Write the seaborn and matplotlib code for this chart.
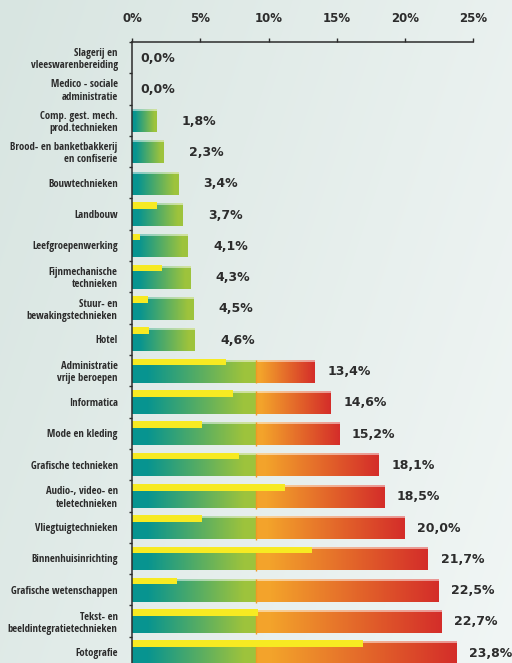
import numpy as np
import pandas as pd
import matplotlib
matplotlib.use("Agg")
import matplotlib.pyplot as plt
from matplotlib import font_manager
from matplotlib.colors import to_rgb
import seaborn as sns

# ---- data -------------------------------------------------------------
categories = [
    "Slagerij en\nvleeswarenbereiding",
    "Medico - sociale\nadministratie",
    "Comp. gest. mech.\nprod.technieken",
    "Brood- en banketbakkerij\nen confiserie",
    "Bouwtechnieken",
    "Landbouw",
    "Leefgroepenwerking",
    "Fijnmechanische\ntechnieken",
    "Stuur- en\nbewakingstechnieken",
    "Hotel",
    "Administratie\nvrije beroepen",
    "Informatica",
    "Mode en kleding",
    "Grafische technieken",
    "Audio-, video- en\nteletechnieken",
    "Vliegtuigtechnieken",
    "Binnenhuisinrichting",
    "Grafische wetenschappen",
    "Tekst- en\nbeeldintegratietechnieken",
    "Fotografie",
]
rates = [0.0, 0.0, 1.8, 2.3, 3.4, 3.7, 4.1, 4.3, 4.5, 4.6,
         13.4, 14.6, 15.2, 18.1, 18.5, 20.0, 21.7, 22.5, 22.7, 23.8]
reference_rates = [0.0, 0.0, 0.0, 0.0, 0.0, 1.8, 0.55, 2.2, 1.15, 1.25,
                   6.9, 7.4, 5.1, 7.85, 11.2, 5.1, 13.2, 3.3, 9.25, 16.9]
benchmark = 9.1
x_ticks = [0, 5, 10, 15, 20, 25]

# ---- style ------------------------------------------------------------
TEAL = np.array(to_rgb("#079490"))
GREEN = np.array(to_rgb("#9dc33c"))
ORANGE = np.array(to_rgb("#f3a32b"))
RED = np.array(to_rgb("#d42d29"))
YELLOW = "#f7ea22"
INK = "#2c2c2c"

sns.set_theme(style="white")
plt.rcParams["font.family"] = ["DejaVu Sans"]

W, H = 512, 663
fig = plt.figure(figsize=(W / 100, H / 100), dpi=100)
renderer = fig.canvas.get_renderer()

# pick the narrowest bold face on hand for the category labels
fonts = font_manager.fontManager.ttflist
names = {f.name for f in fonts}
candidates = []
for fam in ["Liberation Sans Narrow", "Roboto Condensed", "Open Sans Condensed",
            "Roboto", "Lato", "Liberation Sans", "Inter", "Noto Sans", "DejaVu Sans"]:
    if fam in names:
        candidates.append(dict(family=[fam, "DejaVu Sans"], fontweight="bold"))
if any(f.name == "DejaVu Sans" and f.stretch == "condensed" for f in fonts):
    candidates.append(dict(family=["DejaVu Sans"], fontweight="bold", fontstretch="condensed"))

longest = "beeldintegratietechnieken"
best, best_w = None, None
for props in candidates:
    probe = fig.text(0, 0, longest, fontsize=10, **props)
    w = probe.get_window_extent(renderer).width
    probe.remove()
    if best_w is None or w < best_w:
        best, best_w = props, w
label_props = best

# soft diagonal backdrop
bg = fig.add_axes([0, 0, 1, 1], zorder=-10)
bg.axis("off")
yy, xx = np.mgrid[0:H, 0:W]
t = (xx + 0.33 * yy) / (W + 0.33 * H)
c0 = np.array(to_rgb("#d8e5e1"))
c1 = np.array(to_rgb("#f1f6f5"))
bg.imshow(c0 + (c1 - c0) * t[..., None], aspect="auto", extent=[0, W, H, 0])
bg.set_xlim(0, W)
bg.set_ylim(H, 0)

ax = fig.add_axes([132.3 / W, (H - 668) / H, 340.7 / W, 626 / H])
ax.set_facecolor("none")

df = pd.DataFrame({"category": categories, "rate": rates, "reference": reference_rates})

sns.barplot(data=df, x="rate", y="category", orient="y", width=0.71,
            color=TEAL, saturation=1, ax=ax)
n_main = len(ax.patches)
sns.barplot(data=df, x="reference", y="category", orient="y", width=0.21,
            color=YELLOW, saturation=1, ax=ax)
main_bars = ax.patches[:n_main]
ref_bars = ax.patches[n_main:]


def ramp(ca, cb, s, lo, hi):
    u = np.clip((s - lo) / (hi - lo), 0, 1)
    return ca + (cb - ca) * u[:, None]


# gradient fills for the main bars
for bar in main_bars:
    v = bar.get_width()
    h = bar.get_height()
    y0 = bar.get_y() + 0.025
    bar.set_y(y0)
    bar.set_facecolor("none")
    bar.set_linewidth(0)
    if v <= 0:
        continue
    xs = np.linspace(0, v, 500)
    split = min(v, benchmark)
    cols = np.empty((xs.size, 3))
    low = xs <= split
    cols[low] = ramp(TEAL, GREEN, xs[low] / split, 0.12, 0.9)
    if v > benchmark:
        hi_part = ~low
        cols[hi_part] = ramp(ORANGE, RED, (xs[hi_part] - benchmark) / (v - benchmark), 0.08, 1.0)
    rows = 100
    img = np.repeat(cols[None, :, :], rows, axis=0)
    strip = int(rows * 0.1)
    img[:strip] = img[:strip] * 0.5 + 0.5
    ax.imshow(img, extent=(0, v, y0 + h, y0), aspect="auto",
              interpolation="nearest", zorder=2)
    if v > benchmark:
        ax.plot([benchmark, benchmark], [y0 - 0.02, y0 + h + 0.03],
                color="#ef9a24", lw=1.0, zorder=3, solid_capstyle="butt")

# thin reference bars along the top edge of each row
for bar in ref_bars:
    h = bar.get_height()
    c = bar.get_y() + h / 2
    bar.set_y(c - 0.275 - h / 2)
    bar.set_zorder(4)
    bar.set_linewidth(0)

# value labels
for i, v in enumerate(rates):
    off = 6 if v == 0 else (18 if v < benchmark else 9)
    ax.annotate(f"{v:.1f}".replace(".", ",") + "%", xy=(v, i + 0.03),
                xytext=(off, 0), textcoords="offset points",
                ha="left", va="center", fontsize=9, fontweight="bold",
                color=INK, zorder=5)

# axes
ax.set_xlim(0, 25)
ax.set_ylim(19.5, -0.5)
ax.set_xlabel("")
ax.set_ylabel("")
ax.xaxis.tick_top()
ax.set_xticks(x_ticks)
ax.set_xticklabels([f"{t}%" for t in x_ticks], fontweight="bold", fontsize=8.5, color=INK)
ax.tick_params(axis="x", which="major", top=True, bottom=False, labeltop=True,
               labelbottom=False, direction="out", length=3, width=1.0,
               color=INK, pad=9.5)
ax.set_yticks(range(len(categories)))
label_size = min(8.0, 10 * 110.0 / best_w)
ax.set_yticklabels(categories, fontsize=label_size, color=INK,
                   linespacing=1.15, **label_props)
ax.set_yticks(np.arange(-0.5, len(categories), 1.0), minor=True)
ax.tick_params(axis="y", which="major", left=True, length=0, pad=10.5)
ax.tick_params(axis="y", which="minor", left=True, length=2.5, width=1.0,
               color=INK, direction="out")
for side in ("right", "bottom"):
    ax.spines[side].set_visible(False)
for side in ("top", "left"):
    ax.spines[side].set_color(INK)
    ax.spines[side].set_linewidth(1.1)
    ax.spines[side].set_zorder(6)

fig.savefig("out.png", dpi=100)
